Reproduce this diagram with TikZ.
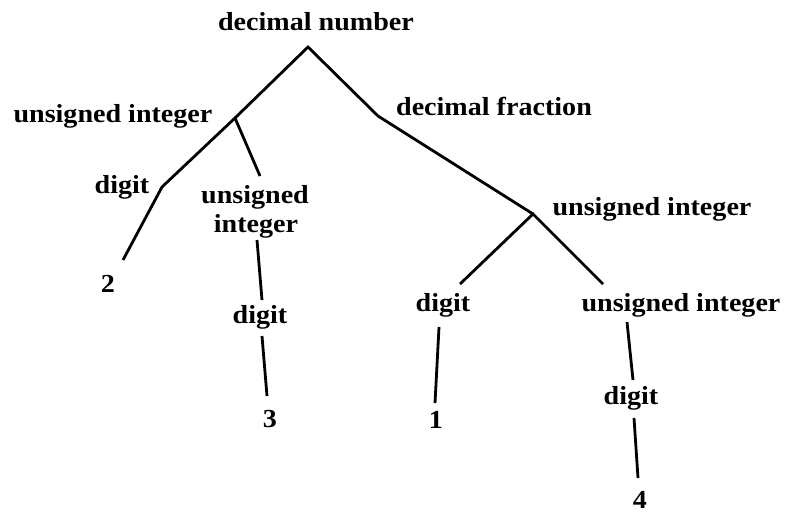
\documentclass[tikz,border=0pt]{standalone}
\usepackage{fontspec}
\setmainfont{Liberation Serif}[FakeStretch=1.08]
\begin{document}
\begin{tikzpicture}[x=1pt,y=-1pt,
  lbl/.style={anchor=base,inner sep=0pt,font=\fontsize{26}{29}\selectfont\bfseries},
  edge/.style={line width=2.8pt,line join=miter}]
\useasboundingbox (0,0) rectangle (786,514);
% labels
\node[lbl] (tdn) at (316,30) {decimal number};
\node[lbl] (tui1) at (113,122) {unsigned integer};
\node[lbl] (tdf) at (494,115) {decimal fraction};
\node[lbl] (tdg1) at (122,193) {digit};
\node[lbl] (tui2a) at (255,203) {unsigned};
\node[lbl] (tui2b) at (256,232) {integer};
\node[lbl] (t2) at (108,292) {2};
\node[lbl] (tdg2) at (260,323) {digit};
\node[lbl] (t3) at (270,427) {3};
\node[lbl] (tui3) at (652,215) {unsigned integer};
\node[lbl] (tdg3) at (443,311) {digit};
\node[lbl] (tui4) at (681,311) {unsigned integer};
\node[lbl] (t1) at (436,428) {1};
\node[lbl] (tdg4) at (631,404) {digit};
\node[lbl] (t4) at (640,508) {4};
% junction points
\coordinate (dn) at (308,47);
\coordinate (ui1) at (235,118);
\coordinate (df) at (378,116);
\coordinate (dg1) at (162,187);
\coordinate (e2) at (123,260);
\coordinate (ui2top) at (260,176);
\coordinate (ui2bot) at (257,240);
\coordinate (dg2top) at (262,300);
\coordinate (dg2bot) at (262,336);
\coordinate (e3) at (267,396);
\coordinate (ui3) at (533,214);
\coordinate (dg3top) at (460,284);
\coordinate (ui4top) at (603,284);
\coordinate (dg3bot) at (439,327);
\coordinate (e1) at (435,403);
\coordinate (ui4bot) at (627,322);
\coordinate (dg4top) at (633,380);
\coordinate (dg4bot) at (634,418);
\coordinate (e4) at (638,478);
% connectors
\draw[edge] (ui1) -- (dn) -- (df) -- (ui3);
\draw[edge] (e2) -- (dg1) -- (ui1) -- (ui2top);
\draw[edge] (ui2bot) -- (dg2top);
\draw[edge] (dg2bot) -- (e3);
\draw[edge] (dg3top) -- (ui3) -- (ui4top);
\draw[edge] (dg3bot) -- (e1);
\draw[edge] (ui4bot) -- (dg4top);
\draw[edge] (dg4bot) -- (e4);
\end{tikzpicture}
\end{document}
